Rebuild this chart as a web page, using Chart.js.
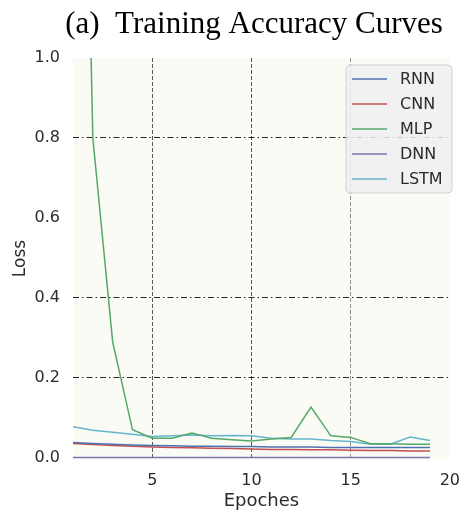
<!DOCTYPE html>
<html>
<head>
<meta charset="utf-8">
<script src="https://cdn.jsdelivr.net/npm/chart.js@4/dist/chart.umd.min.js"></script>
<style>
  html, body { margin: 0; padding: 0; background: #ffffff; }
  #wrap { width: 472px; height: 515px; position: relative; }
</style>
</head>
<body>
<div id="wrap"><canvas id="c" width="472" height="515"></canvas></div>
<script>
// Training loss per epoch for each model
const epochs = [1,2,3,4,5,6,7,8,9,10,11,12,13,14,15,16,17,18,19];
const rnnLoss  = [0.038,0.036,0.034,0.032,0.031,0.030,0.029,0.029,0.028,0.028,0.027,0.027,0.027,0.026,0.026,0.026,0.026,0.026,0.026];
const cnnLoss  = [0.036,0.033,0.031,0.029,0.027,0.026,0.025,0.024,0.023,0.022,0.021,0.021,0.020,0.020,0.019,0.018,0.018,0.017,0.017];
const mlpLoss  = [3.1,0.80,0.29,0.07,0.049,0.049,0.062,0.049,0.045,0.042,0.047,0.051,0.127,0.055,0.051,0.035,0.035,0.034,0.034];
const dnnLoss  = [0.001,0.001,0.001,0.001,0.001,0.001,0.001,0.001,0.001,0.001,0.001,0.001,0.001,0.001,0.001,0.001,0.001,0.001,0.001];
const lstmLoss = [0.078,0.069,0.064,0.059,0.053,0.055,0.057,0.055,0.056,0.055,0.049,0.047,0.047,0.043,0.041,0.034,0.034,0.052,0.043];

const seriesNames = ['RNN','CNN','MLP','DNN','LSTM'];
const xTickValues = [5,10,15,20];
const yTickValues = [0,0.2,0.4,0.6,0.8,1.0];
const yGridValues = [0.2,0.4,0.8];

const titleText = '(a)  Training Accuracy Curves';
const xTitle = 'Epoches';
const yTitle = 'Loss';

const palette = ['#4c72b0','#c44e52','#55a868','#8172b2','#64b5cd'];
const tickFont = { family: 'DejaVu Sans', size: 16 };
const tickColor = '#2b2b2b';

// Cream plot background
const plotBg = {
  id: 'plotBg',
  beforeDraw(chart) {
    const { ctx, chartArea: a } = chart;
    ctx.save();
    ctx.fillStyle = '#fbfbf5';
    ctx.fillRect(a.left, a.top, a.right - a.left, a.bottom - a.top);
    ctx.restore();
  }
};

// Serif heading above the plot
const heading = {
  id: 'heading',
  afterDraw(chart) {
    const { ctx } = chart;
    ctx.save();
    ctx.font = '31px "Liberation Serif"';
    ctx.fillStyle = '#000';
    ctx.textAlign = 'center';
    ctx.textBaseline = 'alphabetic';
    ctx.fillText(titleText, 254, 33);
    ctx.restore();
  }
};

// Boxed legend in the upper right corner of the plot
const boxLegend = {
  id: 'boxLegend',
  afterDatasetsDraw(chart) {
    const { ctx } = chart;
    const x0 = 346, y0 = 65, w = 106, h = 128, r = 4;
    ctx.save();
    ctx.beginPath();
    ctx.roundRect(x0, y0, w, h, r);
    ctx.fillStyle = 'rgba(238,238,241,0.85)';
    ctx.fill();
    ctx.strokeStyle = 'rgba(205,205,210,0.9)';
    ctx.lineWidth = 1;
    ctx.stroke();
    ctx.font = '16px "DejaVu Sans"';
    ctx.textBaseline = 'middle';
    ctx.textAlign = 'left';
    chart.data.datasets.forEach((ds, i) => {
      const y = 79 + i * 25;
      ctx.beginPath();
      ctx.moveTo(352, y);
      ctx.lineTo(387, y);
      ctx.strokeStyle = ds.borderColor;
      ctx.lineWidth = 1.5;
      ctx.stroke();
      ctx.fillStyle = tickColor;
      ctx.fillText(ds.label, 400, y + 1);
    });
    ctx.restore();
  }
};

const series = [rnnLoss, cnnLoss, mlpLoss, dnnLoss, lstmLoss];

new Chart(document.getElementById('c'), {
  type: 'line',
  data: {
    labels: epochs,
    datasets: series.map((vals, i) => ({
      label: seriesNames[i],
      data: vals,
      borderColor: palette[i],
      borderWidth: 1.5,
      pointRadius: 0,
      tension: 0,
      fill: false
    }))
  },
  options: {
    responsive: false,
    animation: false,
    devicePixelRatio: 1,
    layout: { padding: { top: 58, right: 12, bottom: 0, left: 0 } },
    plugins: { legend: { display: false }, title: { display: false }, tooltip: { enabled: false } },
    scales: {
      x: {
        type: 'linear',
        min: 1,
        max: 20,
        afterBuildTicks(scale) { scale.ticks = xTickValues.map(v => ({ value: v })); },
        afterFit(scale) { scale.height = 56; },
        ticks: { font: tickFont, color: tickColor, padding: 12, maxRotation: 0 },
        grid: {
          drawTicks: false,
          lineWidth: 1,
          color: ctx => {
            if (!ctx.tick || ctx.tick.value >= 20) return 'rgba(0,0,0,0)';
            return ctx.tick.value === 15 ? 'rgba(110,110,110,0.75)' : 'rgba(60,60,60,0.85)';
          }
        },
        border: { display: false, dash: [4, 2] },
        title: { display: true, text: xTitle, font: { family: 'DejaVu Sans', size: 18 }, color: tickColor, padding: { top: 0, bottom: 3 } }
      },
      y: {
        min: -0.003,
        max: 1.0,
        afterBuildTicks(scale) { scale.ticks = yTickValues.map(v => ({ value: v })); },
        afterFit(scale) { scale.width = 73; },
        ticks: { font: tickFont, color: tickColor, padding: 13, callback: v => Number(v).toFixed(1) },
        grid: {
          drawTicks: false,
          lineWidth: 1,
          color: ctx => (ctx.tick && yGridValues.some(g => Math.abs(g - ctx.tick.value) < 1e-6)) ? 'rgba(0,0,0,0.85)' : 'rgba(0,0,0,0)'
        },
        border: { display: false, dash: [6, 3, 1.5, 3] },
        title: { display: true, text: yTitle, font: { family: 'DejaVu Sans', size: 17 }, color: tickColor, padding: { top: 10, bottom: 0 } }
      }
    }
  },
  plugins: [plotBg, heading, boxLegend]
});
</script>
</body>
</html>
